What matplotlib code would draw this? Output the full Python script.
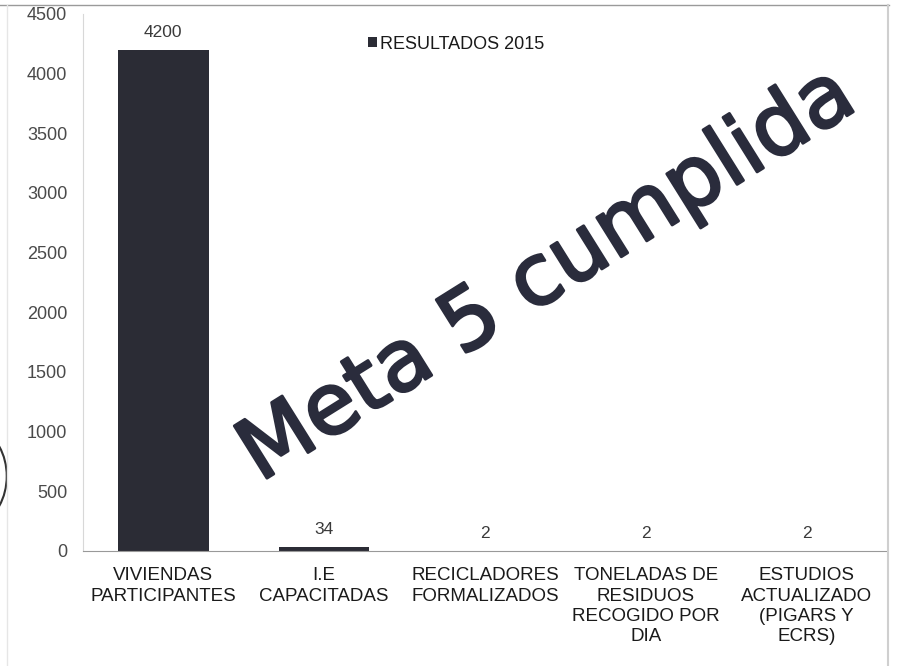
import matplotlib.pyplot as plt
import matplotlib.patheffects as pe
import numpy as np
from matplotlib.patches import Arc
from matplotlib.lines import Line2D

plt.rcParams['font.family'] = ['Liberation Sans', 'DejaVu Sans']

categories = ["VIVIENDAS\nPARTICIPANTES", "I.E\nCAPACITADAS", "RECICLADORES\nFORMALIZADOS",
              "TONELADAS DE\nRESIDUOS\nRECOGIDO POR\nDIA", "ESTUDIOS\nACTUALIZADO\n(PIGARS Y\nECRS)"]
valores = [4200, 34, 2, 2, 2]
serie = "RESULTADOS 2015"
yticks = [0, 500, 1000, 1500, 2000, 2500, 3000, 3500, 4000, 4500]

bar_color = "#2b2c35"

fig = plt.figure(figsize=(8.98, 6.66), dpi=100)
ax = fig.add_axes([0.092, 0.173, 0.896, 0.806])

x = np.arange(len(categories))
bars = ax.bar(x, valores, width=0.565, color=bar_color, label=serie)
for b, v in zip(bars, valores):
    ax.text(b.get_x() + b.get_width() / 2, v + 80, str(v), ha="center", va="bottom",
            fontsize=12.5, color="#3a3a3a")

ax.set_xlim(-0.5, len(categories) - 0.5)
ax.set_ylim(0, 4500)
ax.set_yticks(yticks)
ax.set_xticks(x)
ax.set_xticklabels(categories, fontsize=13.5, color="#1a1a1a", linespacing=1.25)
ax.tick_params(axis="y", length=0, labelsize=13, labelcolor="#4a4a4a", pad=11)
ax.tick_params(axis="x", length=0, pad=12)
for s in ["top", "right"]:
    ax.spines[s].set_visible(False)
ax.spines["left"].set_color("#d8d8d8")
ax.spines["bottom"].set_color("#999999")
ax.spines["bottom"].set_linewidth(0.8)

ax.legend(loc="upper left", bbox_to_anchor=(0.335, 0.99), frameon=False, fontsize=13,
          handlelength=0.45, handleheight=0.45, handletextpad=0.2, labelcolor="#1a1a1a")

# sello "Meta 5 cumplida"
fig.text(0.61, 0.587, "Meta 5 cumplida", rotation=32, ha="center", va="center",
         fontsize=61, fontweight="normal", color="#2a2c3c", family="DejaVu Sans",
         path_effects=[pe.withStroke(linewidth=2, foreground="#2a2c3c")])

# bordes del escaneo
fig.add_artist(Line2D([0.0, 0.99], [0.992, 0.992], color="#9a9a9a", lw=1))
fig.add_artist(Line2D([0.989, 0.989], [0.0, 0.992], color="#cfcfcf", lw=1.5))
fig.add_artist(Line2D([0.008, 0.008], [0.0, 0.992], color="#e6e6e6", lw=1))
fig.add_artist(Arc((-0.035, 0.285), 0.085, 0.15, theta1=-80, theta2=80, color="#333333", lw=1.5,
                   transform=fig.transFigure))

fig.savefig("out.png", dpi=100)
